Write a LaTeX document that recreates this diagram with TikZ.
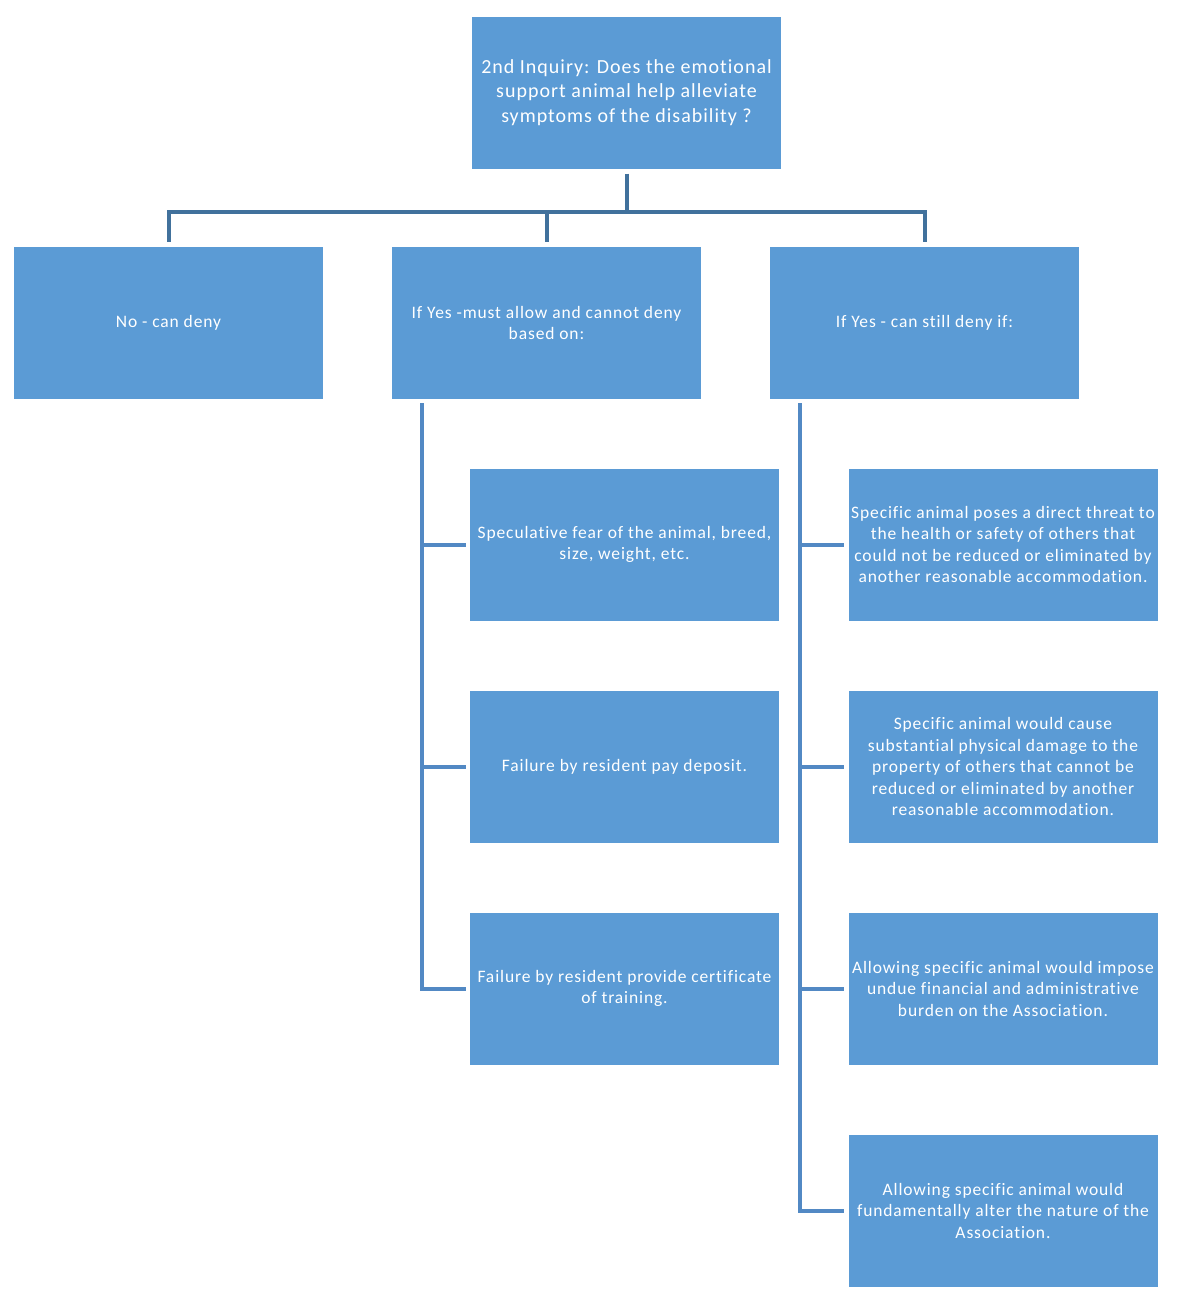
\documentclass[tikz,border=0pt]{standalone}
\usepackage{fontspec}
\setmainfont{Carlito}[LetterSpace=5, Ligatures={NoCommon}]
\usetikzlibrary{calc}
\definecolor{boxfill}{HTML}{5B9BD5}
\definecolor{topline}{HTML}{41719C}
\definecolor{subline}{HTML}{5289C4}
\tikzset{
  box/.style={rectangle, fill=boxfill, draw=none, text=white, align=center,
    minimum width=309pt, minimum height=152pt, inner sep=0pt,
    font=\fontsize{17.5}{21.5}\selectfont},
  bigbox/.style={box, font=\fontsize{20}{24.5}\selectfont},
  busline/.style={draw=topline, line width=4pt, line join=miter},
  spineline/.style={draw=subline, line width=4pt, line join=miter},
}
\begin{document}
\begin{tikzpicture}[x=1pt,y=-1pt]
\useasboundingbox (0,0) rectangle (1180,1301);
\node[bigbox] (top) at (626.5,92.5) {2nd Inquiry: Does the emotional\\support animal help alleviate\\symptoms of the disability ?};
\node[box] (n1) at (168.5,323) {No - can deny};
\node[box] (n2) at (546.5,323) {If Yes -must allow and cannot deny\\based on:};
\node[box] (n3) at (924.5,323) {If Yes - can still deny if:};
\node[box] (a1) at (624.5,544.5) {Speculative fear of the animal, breed,\\size, weight, etc.};
\node[box] (a2) at (624.5,766.5) {Failure by resident pay deposit.};
\node[box] (a3) at (624.5,988.5) {Failure by resident provide certificate\\of training.};
\node[box] (b1) at (1003,544.5) {Specific animal poses a direct threat to\\the health or safety of others that\\could not be reduced or eliminated by\\another reasonable accommodation.};
\node[box] (b2) at (1003,766.5) {Specific animal would cause\\substantial physical damage to the\\property of others that cannot be\\reduced or eliminated by another\\reasonable accommodation.};
\node[box] (b3) at (1003,988.5) {Allowing specific animal would impose\\undue financial and administrative\\burden on the Association.};
\node[box] (b4) at (1003,1210.5) {Allowing specific animal would\\fundamentally alter the nature of the\\Association.};
% bus
\coordinate (bus) at (626,212);
\draw[busline, shorten <=5pt] (top.south) -- (top.south |- bus);
\draw[busline, shorten <=5pt, shorten >=5pt] (n1.north) |- (bus) -| (n3.north);
\draw[busline, shorten <=5pt] (n2.north) -- (n2.north |- bus);
% left spine
\coordinate (sl) at ($(n2.south west)+(30,0)$);
\draw[spineline, shorten <=4pt, shorten >=4pt] (sl) |- (a3.west);
\draw[spineline, shorten >=4pt] (sl |- a1.west) -- (a1.west);
\draw[spineline, shorten >=4pt] (sl |- a2.west) -- (a2.west);
% right spine
\coordinate (sr) at ($(n3.south west)+(30,0)$);
\draw[spineline, shorten <=4pt, shorten >=4pt] (sr) |- (b4.west);
\draw[spineline, shorten >=4pt] (sr |- b1.west) -- (b1.west);
\draw[spineline, shorten >=4pt] (sr |- b2.west) -- (b2.west);
\draw[spineline, shorten >=4pt] (sr |- b3.west) -- (b3.west);
\end{tikzpicture}
\end{document}
